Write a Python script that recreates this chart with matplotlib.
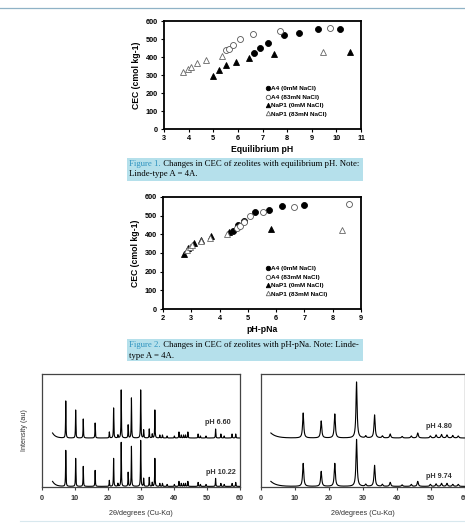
import numpy as np
import matplotlib
matplotlib.use("Agg")
import matplotlib.pyplot as plt
from matplotlib.lines import Line2D
from matplotlib.patches import Rectangle
from matplotlib.text import Annotation

W, H = 465, 524

# ---- Figure 1: CEC vs equilibrium pH ----
f1_a4_0_x = [6.64, 6.91, 7.22, 7.86, 8.47, 9.25, 10.14]
f1_a4_0_y = [420, 451, 475, 523, 536, 554, 558]
f1_a4_83_x = [5.50, 5.64, 5.81, 6.08, 6.61, 7.73, 9.74]
f1_a4_83_y = [438, 447, 469, 499, 525, 545, 563]
f1_p1_0_x = [4.97, 5.23, 5.53, 5.92, 6.45, 7.46, 10.56]
f1_p1_0_y = [294, 328, 353, 372, 392, 414, 429]
f1_p1_83_x = [3.79, 3.96, 4.10, 4.33, 4.72, 5.34, 9.45]
f1_p1_83_y = [317, 332, 346, 365, 381, 407, 426]

# ---- Figure 2: CEC vs pH-pNa ----
f2_a4_0_x = [4.48, 4.65, 4.88, 5.26, 5.76, 6.22, 7.00]
f2_a4_0_y = [420, 451, 471, 520, 533, 553, 558]
f2_a4_83_x = [4.60, 4.72, 4.85, 5.08, 5.55, 6.64, 8.59]
f2_a4_83_y = [436, 445, 466, 499, 520, 545, 563]
f2_p1_0_x = [2.76, 2.88, 3.09, 3.35, 3.69, 4.32, 5.81]
f2_p1_0_y = [294, 326, 351, 370, 390, 412, 429]
f2_p1_83_x = [2.86, 2.94, 3.03, 3.34, 3.66, 4.26, 8.32]
f2_p1_83_y = [315, 331, 345, 365, 378, 404, 424]

# ---- XRD: peak positions (2theta) and heights (au) ----
lta_pos = [7.2, 10.2, 12.5, 16.1, 20.4, 21.7, 23.0, 24.0, 26.1, 27.1, 29.9, 30.8,
           32.5, 33.4, 34.2, 35.7, 36.5, 37.9, 40.1, 41.5, 42.2, 42.9, 43.5, 44.2,
           47.3, 48.0, 49.7, 52.6, 54.2, 55.2, 57.6, 58.7]
lta_top = [37, 28, 19, 15, 6, 30, 3, 48, 13, 40, 48, 8,
           9, 4, 28, 3, 3, 2, 2, 6, 3, 3, 3, 6,
           4, 2, 2, 9, 4, 2, 4, 4]
lta_bot = [36, 28, 20, 16, 6, 28, 3, 44, 14, 40, 46, 8,
           9, 4, 28, 3, 3, 2, 2, 5, 3, 3, 3, 5,
           4, 2, 2, 8, 3, 2, 3, 4]
gis_pos = [12.4, 17.7, 21.7, 28.1, 30.8, 33.4, 35.7, 38.0, 41.5, 44.2, 46.1,
           49.8, 51.5, 53.1, 54.7, 56.4, 58.0]
gis_top = [25, 17, 24, 56, 2, 23, 2, 4, 1.5, 2, 5, 2, 3, 3.5, 3, 2.5, 2]
gis_bot = [23, 15, 23, 47, 2, 21, 2, 4, 1.5, 2, 5, 2, 2.5, 3, 3, 2, 2]

plt.rcParams["font.family"] = ["Liberation Sans", "DejaVu Sans"]

fig = plt.figure(figsize=(W / 100, H / 100), dpi=100)


def rect(l, t, r, b):
    # pixel box -> figure fraction
    return [l / W, 1 - b / H, (r - l) / W, (b - t) / H]


def scatter_panel(box, xlim, xlabel, series, legend_labels, leg_xy):
    ax = fig.add_axes(rect(*box))
    styles = [("o", "black", "black"), ("o", "white", "#555555"),
              ("^", "black", "black"), ("^", "white", "#666666")]
    for (xs, ys), (mk, fc, ec), lab in zip(series, styles, legend_labels):
        ax.plot(xs, ys, ls="none", marker=mk, ms=4.3, mew=0.6,
                mfc=fc, mec=ec, label=lab)
    ax.set_xlim(*xlim)
    ax.set_ylim(0, 600)
    ax.set_xticks(range(xlim[0], xlim[1] + 1))
    ax.set_yticks(range(0, 601, 100))
    for s in ax.spines.values():
        s.set_linewidth(1.3)
    ax.tick_params(labelsize=5.3, length=2.5, width=0.8, pad=2)
    for t in ax.get_xticklabels() + ax.get_yticklabels():
        t.set_fontweight("bold")
    ax.set_xlabel(xlabel, fontsize=6.2, fontweight="bold", labelpad=2)
    ax.set_ylabel("CEC (cmol kg-1)", fontsize=6.2, fontweight="bold", labelpad=3)
    ax.legend(loc="upper left", bbox_to_anchor=(leg_xy[0] / W, 1 - leg_xy[1] / H),
              bbox_transform=fig.transFigure, frameon=False,
              prop=dict(size=4.6, weight="bold"), markerscale=0.75,
              handlelength=0.5, handletextpad=0.35, labelspacing=0.45,
              borderpad=0, borderaxespad=0)
    return ax


scatter_panel((164, 21, 361, 129), (3, 11), "Equilibrium pH",
              [(f1_a4_0_x, f1_a4_0_y), (f1_a4_83_x, f1_a4_83_y),
               (f1_p1_0_x, f1_p1_0_y), (f1_p1_83_x, f1_p1_83_y)],
              ["A4 (0mM NaCl)", "A4 (83mN NaCl)", "NaP1 (0mM NaCl)", "NaP1 (83mN NaCl)"],
              (266, 86))
scatter_panel((163, 197, 361, 309), (2, 9), "pH-pNa",
              [(f2_a4_0_x, f2_a4_0_y), (f2_a4_83_x, f2_a4_83_y),
               (f2_p1_0_x, f2_p1_0_y), (f2_p1_83_x, f2_p1_83_y)],
              ["A4 (0mM NaCl)", "A4 (83mM NaCl)", "NaP1 (0mM NaCl)", "NaP1 (83mM NaCl)"],
              (266, 266))


def profile(x, pos, heights, width, base, rise, decay):
    y = np.full_like(x, base) + rise * np.exp(-(x - x[0]) / decay)
    for p, h in zip(pos, heights):
        y += h / (1 + ((x - p) / width) ** 2)
    return y


def xrd_panel(box, start, pos, top, bot, width, decay, labels, ylabel=None):
    ax = fig.add_axes(rect(*box))
    x = np.arange(start, 60.001, 0.01)
    ax.plot(x, profile(x, pos, top, width, 49, 5, decay), color="black", lw=0.8)
    ax.plot(x, profile(x, pos, bot, width, 0.6, 5, decay), color="black", lw=0.8)
    ax.set_xlim(0, 60)
    ax.set_ylim(0, 113)
    ax.set_yticks([])
    ax.set_xticks(range(0, 61, 10))
    for s in ax.spines.values():
        s.set_linewidth(0.9)
        s.set_color("#444444")
    ax.tick_params(axis="x", labelsize=5.2, length=2.5, width=0.8, pad=3, color="#444444")
    for t in ax.get_xticklabels():
        t.set_fontweight("bold")
        t.set_color("#333333")
    ax.set_xlabel("2θ/degrees (Cu-Kα)", fontsize=5.2, color="#333333", labelpad=6)
    if ylabel:
        ax.set_ylabel(ylabel, fontsize=5.2, color="#333333", labelpad=10)
    for lx, ly, txt in labels:
        ax.text(lx, ly, txt, fontsize=5.2, fontweight="bold", color="#333333",
                va="center", ha="left")
    return ax


xrd_panel((42, 374, 240, 487), 3.2, lta_pos, lta_top, lta_bot, 0.07, 0.9,
          [(49.5, 64, "pH 6.60"), (49.6, 14, "pH 10.22")], ylabel="Intensity (au)")
xrd_panel((261, 374, 465, 487), 2.9, gis_pos, gis_top, gis_bot, 0.2, 1.6,
          [(48.6, 60, "pH 4.80"), (48.6, 10, "pH 9.74")])


# ---- captions ----
def caption(top, bottom, lines, fignum):
    fig.add_artist(Rectangle((127 / W, 1 - bottom / H), (363 - 127) / W, (bottom - top) / H,
                             transform=fig.transFigure, facecolor="#b5e0eb",
                             edgecolor="none", zorder=0))
    y1 = 1 - (top + 6) / H
    y2 = 1 - (top + 16.5) / H
    t1 = fig.text(129 / W, y1, fignum, fontsize=6.3, color="#2f93bf",
                  family="Liberation Serif", va="center")
    fig.add_artist(Annotation(" " + lines[0], xy=(1, 0.5), xycoords=t1,
                              va="center", ha="left", fontsize=6.3,
                              family="Liberation Serif", color="black"))
    fig.text(129 / W, y2, lines[1], fontsize=6.3, family="Liberation Serif", va="center")


caption(158, 181, ["Changes in CEC of zeolites with equilibrium pH. Note:",
                   "Linde-type A = 4A."], "Figure 1.")
caption(339, 361, ["Changes in CEC of zeolites with pH-pNa. Note: Linde-",
                   "type A = 4A."], "Figure 2.")

fig.add_artist(Line2D([0, 1], [1 - 8 / H, 1 - 8 / H], transform=fig.transFigure,
                      color="#8fb2c6", lw=0.9))
fig.add_artist(Line2D([20 / W, 1], [1 - 521 / H, 1 - 521 / H], transform=fig.transFigure,
                      color="#d8e8ee", lw=0.8))

fig.savefig("out.png", dpi=100)
